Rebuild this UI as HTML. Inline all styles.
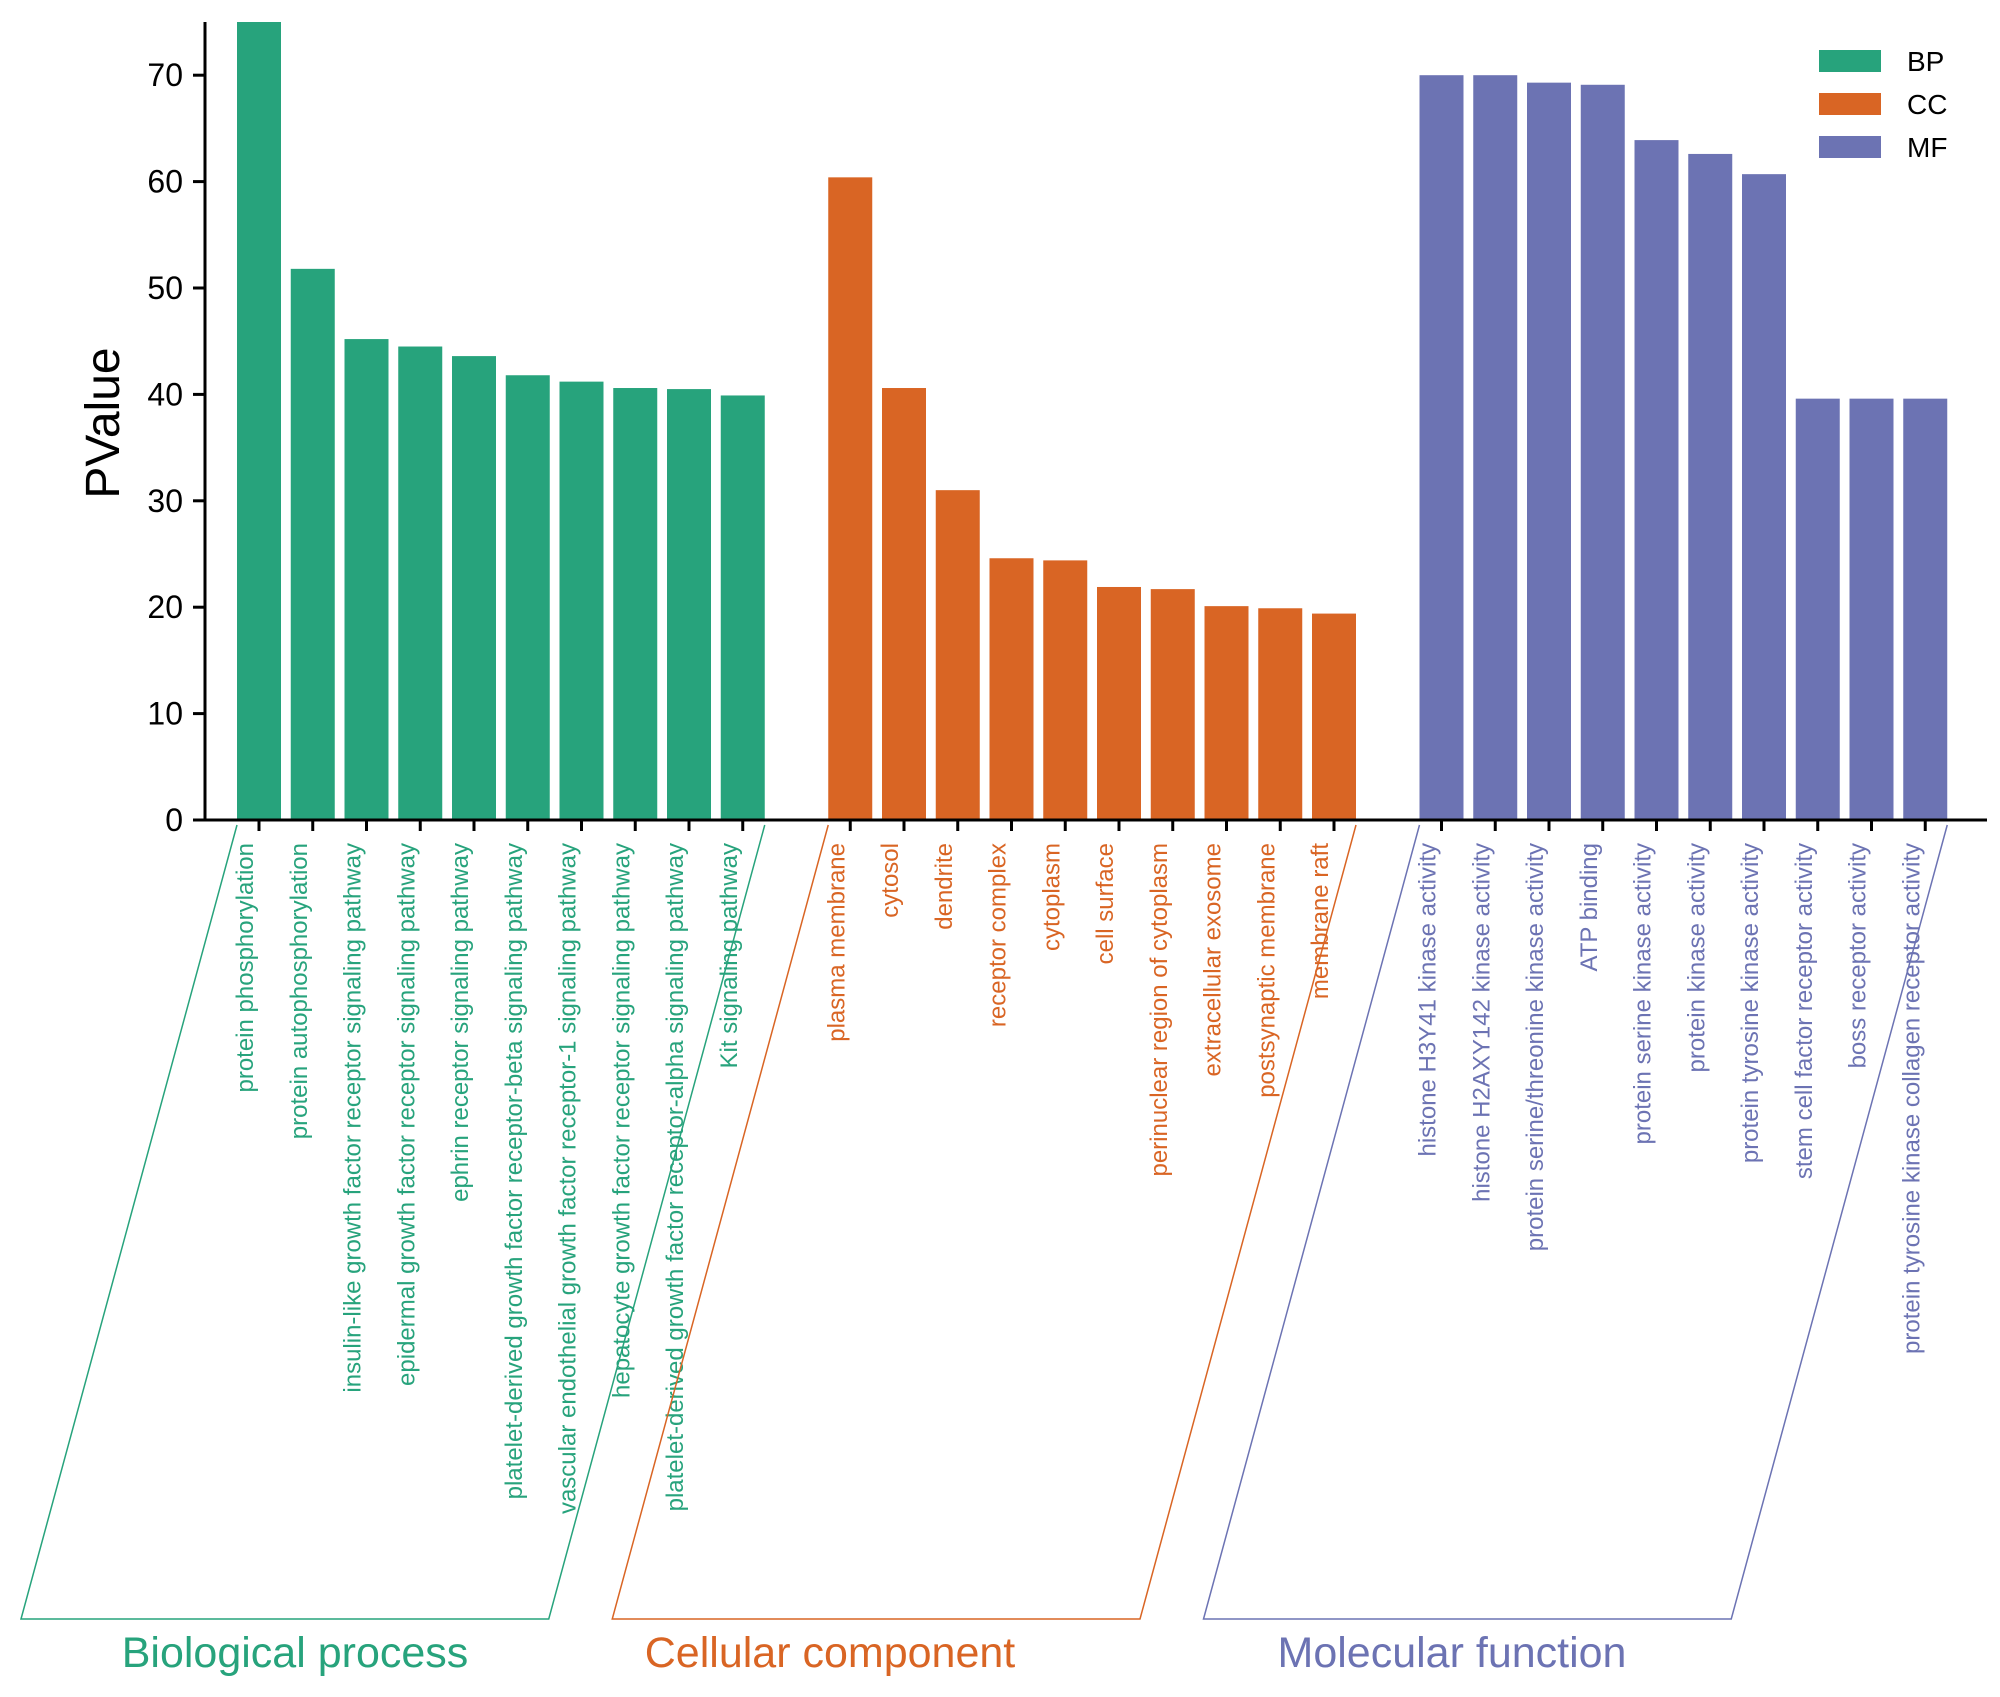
<!DOCTYPE html>
<html><head><meta charset="utf-8"><style>
html,body{margin:0;padding:0;background:#fff;}
svg{display:block;font-family:"Liberation Sans",Arial,sans-serif;}
</style></head><body>
<svg id="chart" width="2000" height="1697" viewBox="0 0 2000 1697" xmlns="http://www.w3.org/2000/svg">
<g id="bars"></g>
<g id="axes"></g>
<g id="labels"></g>
<g id="brackets"></g>
<text x="0" y="0" transform="translate(119,423) rotate(-90)" text-anchor="middle" font-size="48" fill="#000">PValue</text>
<g id="legend"></g>
</svg>
<script>
const bpNames = ["protein phosphorylation","protein autophosphorylation","insulin-like growth factor receptor signaling pathway","epidermal growth factor receptor signaling pathway","ephrin receptor signaling pathway","platelet-derived growth factor receptor-beta signaling pathway","vascular endothelial growth factor receptor-1 signaling pathway","hepatocyte growth factor receptor signaling pathway","platelet-derived growth factor receptor-alpha signaling pathway","Kit signaling pathway"];
const bpValues = [75, 51.8, 45.2, 44.5, 43.6, 41.8, 41.2, 40.6, 40.5, 39.9];
const ccNames = ["plasma membrane","cytosol","dendrite","receptor complex","cytoplasm","cell surface","perinuclear region of cytoplasm","extracellular exosome","postsynaptic membrane","membrane raft"];
const ccValues = [60.4, 40.6, 31.0, 24.6, 24.4, 21.9, 21.7, 20.1, 19.9, 19.4];
const mfNames = ["histone H3Y41 kinase activity","histone H2AXY142 kinase activity","protein serine/threonine kinase activity","ATP binding","protein serine kinase activity","protein kinase activity","protein tyrosine kinase activity","stem cell factor receptor activity","boss receptor activity","protein tyrosine kinase collagen receptor activity"];
const mfValues = [70.0, 70.0, 69.3, 69.1, 63.9, 62.6, 60.7, 39.6, 39.6, 39.6];
const yTicks = [0, 10, 20, 30, 40, 50, 60, 70];
const groupCodes = ["BP","CC","MF"];
const groupTitles = ["Biological process","Cellular component","Molecular function"];

const NS = "http://www.w3.org/2000/svg";
const colors = ["#27a37c","#d96524","#6c73b3"];
const titleX = [295, 830, 1452];
const yMax = 75, y0 = 820, yTop = 22;
const axisX = 205;
const slot0 = 259, slotW = 53.75, barW = 44;
function yScale(v){ return y0 - (Math.min(v,yMax)/yMax)*(y0-yTop); }
function xScale(slot){ return slot0 + slot*slotW; }
function mk(tag, attrs, parent){ const e=document.createElementNS(NS,tag); for(const k in attrs) e.setAttribute(k,attrs[k]); parent.appendChild(e); return e; }

const groups = [[bpNames,bpValues],[ccNames,ccValues],[mfNames,mfValues]];
const barsG = document.getElementById('bars');
const labG = document.getElementById('labels');
const axG = document.getElementById('axes');
const brG = document.getElementById('brackets');
const legG = document.getElementById('legend');

groups.forEach((g, gi) => {
  const [names, vals] = g;
  const startSlot = gi*11;
  vals.forEach((v, i) => {
    const cx = xScale(startSlot + i);
    const r = mk('rect', {x: cx-barW/2, y: yScale(v), width: barW, height: y0 - yScale(v), fill: colors[gi]}, barsG);
    
    
    const t = mk('line', {x1: cx, x2: cx, y1: y0, y2: y0+11, stroke: '#000', 'stroke-width': 3}, axG);
    
    
    const lx = cx - 6, ly = 843;
    const tx = mk('text', {x: 0, y: 0, transform: 'translate(' + lx + ',' + ly + ') rotate(-90)', 'text-anchor': 'end', 'font-size': 24, fill: colors[gi]}, labG);
    tx.textContent = names[i];
    
    
  });
  const left = xScale(startSlot) - barW/2, right = xScale(startSlot+vals.length-1) + barW/2;
  const shift = 216, yb = 1619;
  const p = mk('polyline', {points: left+','+(y0+5)+' '+(left-shift)+','+yb+' '+(right-shift)+','+yb+' '+right+','+(y0+5), fill: 'none', stroke: colors[gi], 'stroke-width': 1.5}, brG);
  
  
  const gt = mk('text', {x: titleX[gi], y: 1667, 'text-anchor': 'middle', 'font-size': 43, fill: colors[gi]}, brG);
  gt.textContent = groupTitles[gi];
  
  
  const lr = mk('rect', {x: 1819, y: 50 + gi*43, width: 62, height: 22, fill: colors[gi]}, legG);
  
  
  const lt = mk('text', {x: 1907, y: 71 + gi*43, 'font-size': 28, fill: '#000'}, legG);
  lt.textContent = groupCodes[gi];
  
  
});

const ya = mk('line', {x1: axisX, x2: axisX, y1: yTop, y2: y0+1.5, stroke: '#000', 'stroke-width': 3}, axG);


const xa = mk('line', {x1: axisX-12, x2: 1987, y1: y0, y2: y0, stroke: '#000', 'stroke-width': 3}, axG);


yTicks.forEach(v => {
  const y = yScale(v);
  const tl = mk('line', {x1: axisX-12, x2: axisX, y1: y, y2: y, stroke: '#000', 'stroke-width': 3}, axG);
  
  
  const tt = mk('text', {x: axisX-22, y: y+11, 'text-anchor': 'end', 'font-size': 32, fill: '#000'}, axG);
  tt.textContent = v;
  
  
});
</script>
</body></html>
